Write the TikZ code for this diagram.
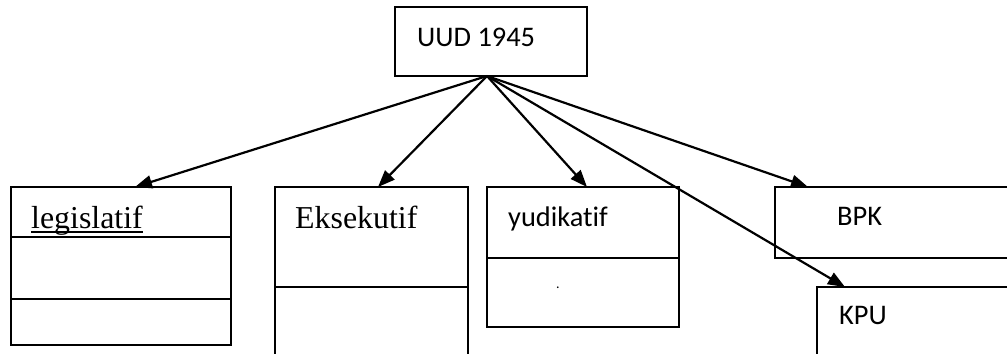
\documentclass[tikz,border=0pt]{standalone}
\usepackage{fontspec}
\setmainfont{Liberation Serif}
\newfontfamily\calib[Ligatures=NoCommon]{Carlito}
\usetikzlibrary{arrows.meta}
\begin{document}
\begin{tikzpicture}[x=1bp,y=-1bp]
\tikzset{
 box/.style={draw, line width=1.8bp, anchor=north west, inner sep=0pt, outer sep=0pt, rectangle},
 sanslbl/.style={anchor=base west, inner sep=0pt, font=\calib\fontsize{28.5}{32}\selectfont},
 seriflbl/.style={anchor=base west, inner sep=0pt, font=\fontsize{32}{36}\selectfont},
 arr/.style={line width=2.2bp, -{Triangle[length=17bp,width=13bp]}},
 divider/.style={line width=1.8bp}
}
\useasboundingbox (0,0) rectangle (1007,353);
\clip (0,0) rectangle (1007,353);
\fill[white] (0,0) rectangle (1007,353);
% boxes
\node[box, minimum width=192bp, minimum height=69bp] (uud) at (395,7) {};
\node[box, minimum width=220bp, minimum height=158bp] (leg) at (11,187) {};
\node[box, minimum width=193bp, minimum height=200bp] (eks) at (275,187) {};
\node[box, minimum width=192bp, minimum height=140bp] (yud) at (487,187) {};
\node[box, minimum width=260bp, minimum height=71bp] (bpk) at (775,187) {};
\node[box, minimum width=230bp, minimum height=100bp] (kpu) at (817,287) {};
% dividers
\draw[divider] (leg.west |- 0,237) -- (leg.east |- 0,237);
\draw[divider] (leg.west |- 0,299) -- (leg.east |- 0,299);
\draw[divider] (eks.west |- 0,287) -- (eks.east |- 0,287);
\draw[divider] (yud.west |- 0,258) -- (yud.east |- 0,258);
% labels
\node[sanslbl] (tuud) at (417,46) {UUD 1945};
\node[seriflbl] (tleg) at (31,228) {legislatif};
\draw[line width=1.5bp] ([yshift=-4bp]tleg.base west) -- ([yshift=-4bp]tleg.base east);
\node[seriflbl] (teks) at (295,228) {Eksekutif};
\node[sanslbl] (tyud) at (508,226) {yudikatif};
\node[sanslbl, font=\calib\fontsize{14}{16}\selectfont] (tdot) at (556,288) {.};
\node[sanslbl] (tbpk) at (837,225) {BPK};
\node[sanslbl] (tkpu) at (839,324) {KPU};
% connectors
\coordinate (apex) at ([xshift=-4bp]uud.south);
\coordinate (legT) at ([xshift=124bp]leg.north west);
\coordinate (eksT) at ([xshift=103bp]eks.north west);
\coordinate (yudT) at ([xshift=100bp]yud.north west);
\coordinate (bpkT) at ([xshift=33bp]bpk.north west);
\coordinate (kpuT) at ([xshift=28bp]kpu.north west);
\draw[arr] (apex) -- (legT);
\draw[arr] (apex) -- (eksT);
\draw[arr] (apex) -- (yudT);
\draw[arr] (apex) -- (bpkT);
\draw[arr] (apex) -- (kpuT);
\end{tikzpicture}
\end{document}
